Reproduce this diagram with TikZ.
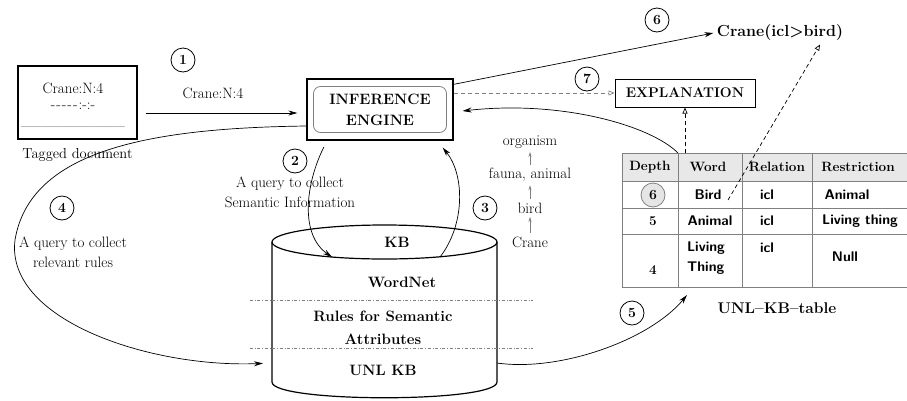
\documentclass[tikz,border=0pt]{standalone}
\usetikzlibrary{positioning,arrows.meta}

\begin{document}
\begin{tikzpicture}[x=1pt,y=-1pt,
	every node/.style={font=\fontsize{15}{20}\selectfont},
	arr/.style={line width=0.7pt,-{Stealth[length=9pt,width=5pt]}},
	oarr/.style={line width=0.7pt,dash pattern=on 4pt off 3pt,-{Triangle[open,length=6pt,width=5pt]}},
	sarr/.style={gray,line width=0.6pt,-{Stealth[length=5pt,width=3pt]}},
	num/.style={circle,draw,line width=0.8pt,minimum size=24pt,inner sep=0pt,font=\fontsize{14}{14}\selectfont\bfseries},
	kbtext/.style={font=\fontsize{15}{23}\selectfont\bfseries,align=center},
	hd/.style={font=\fontsize{13.5}{15}\selectfont\bfseries},
	cell/.style={font=\fontsize{14}{20}\selectfont\sffamily\bfseries,align=left}]
		\useasboundingbox (0,0) rectangle (907,400);

		\node[draw,line width=1.1pt,minimum width=119pt,minimum height=73pt] (doc) at (77.5,102.5) {};
		\node (d1) at (73,88) {Crane:N:4};
		\node[inner sep=0pt] (d2) at (73,106) {-\kern1pt-\kern1pt-\kern1pt-\kern1pt-\kern1pt:-:-};
		\node[inner sep=0pt] (d3) at (73,126) {\_\_\_\_\_\_\_\_\_\_};
		\node[below=5pt of doc,font=\fontsize{14.5}{17}\selectfont] (tag) {Tagged document};

		\node[draw,line width=1.3pt,minimum width=146pt,minimum height=61pt] (engine) at (380,109.5) {};
		\node[draw=gray,line width=0.8pt,rounded corners=7pt,minimum width=133pt,minimum height=46pt,align=center,
			font=\fontsize{15}{21}\selectfont\bfseries] (eng) at (engine) {INFERENCE\\ENGINE};

		\node[draw,line width=1pt,minimum width=140pt,minimum height=28pt,font=\fontsize{14}{16}\selectfont\bfseries] (expl) at (685,93) {EXPLANATION};
		\node[font=\fontsize{16}{18}\selectfont\bfseries] (res) at (780,33) {Crane(icl>bird)};

		\node[num] (n1) at (183,60) {1};
		\node[num] (n2) at (295,161) {2};
		\node[num] (n3) at (485,208) {3};
		\node[num] (n4) at (62,208) {4};
		\node[num] (n5) at (632,313) {5};
		\node[num] (n6) at (657,20) {6};
		\node[num] (n7) at (587,79) {7};

		\node (lab1) at (213,93) {Crane:N:4};
		\node[align=center] (q2) at (290,192) {A query to collect\\Semantic Information};
		\node[align=center] (q4) at (73,252) {A query to collect\\relevant rules};

		\node (org) at (530,142) {organism};
		\node (fa) at (530,175) {fauna, animal};
		\node (bi) at (530,208) {bird};
		\node (cr) at (530,242) {Crane};
		\draw[sarr] (cr) -- (bi);
		\draw[sarr] (bi) -- (fa);
		\draw[sarr] (fa) -- (org);

		\draw[line width=1.2pt] (272,242) -- (272,382) .. controls (272,403) and (497,403) .. (497,382) -- (497,242);
		\draw[line width=1.2pt] (384.5,242) ellipse [x radius=112.5pt,y radius=17pt];
		\draw[gray,dash dot,line width=0.7pt] (250,300) -- (533,300);
		\draw[gray,dash dot,line width=0.7pt] (250,348) -- (533,348);
		\node[kbtext] (kb) at (397,242) {KB};
		\node[kbtext] (wn) at (402,282) {WordNet};
		\node[kbtext] (rules) at (383,328) {Rules for Semantic\\Attributes};
		\node[kbtext] (unl) at (383,370) {UNL KB};
		\coordinate (kbin) at (332,257);
		\coordinate (kbout) at (440,257);
		\coordinate (kbw) at (272,363);
		\coordinate (kbe) at (497,363);

		\fill[gray!18] (622,153) rectangle (910,181);
		\draw[gray,line width=0.9pt] (622,153) rectangle (910,287);
		\draw[gray,line width=0.9pt] (622,181) -- (910,181) (622,208) -- (910,208) (622,234) -- (910,234)
			(678,153) -- (678,287) (742,153) -- (742,287) (812,153) -- (812,287);
		\node[hd] (hdep) at (650,167) {Depth};
		\node[hd] (hword) at (708,167) {Word};
		\node[hd] (hrel) at (777,167) {Relation};
		\node[hd] (hres) at (858,167) {Restriction};
		\node[num,draw=gray,fill=gray!20] (d6) at (653,195) {6};
		\node[cell] (w1) at (708,195) {Bird};
		\node[cell] (r1) at (767,195) {icl};
		\node[cell] (s1) at (847,195) {Animal};
		\node[hd] (d5) at (653,221) {5};
		\node[cell] (w2) at (710,221) {Animal};
		\node[cell] (r2) at (767,221) {icl};
		\node[cell] (s2) at (860,221) {Living thing};
		\node[hd] (d4) at (653,270) {4};
		\node[cell] (w3) at (706,258) {Living\\Thing};
		\node[cell] (r3) at (767,248) {icl};
		\node[cell] (s3) at (845,257) {Null};
		\node[font=\fontsize{15.5}{17}\selectfont\bfseries] (tlab) at (777,308) {UNL--KB--table};
		\coordinate (wtop) at (678,153);
		\coordinate (wbot) at (687,295);
		\coordinate (bt) at (728,200);

		\draw[arr,shorten <=8pt,shorten >=9pt] (doc.east |- 0,113) -- (engine.west |- 0,113);
		\draw[arr,shorten <=7pt] (engine.south -| 327,0) .. controls (305,185) and (300,235) .. (kbin);
		\draw[arr,shorten >=9pt] (kbout) .. controls (465,225) and (465,175) .. (engine.south -| 437,0);
		\draw[arr,shorten >=9pt] (engine.west |- 0,126) .. controls (150,128) and (30,150) .. (15,240)
			.. controls (5,320) and (150,368) .. (kbw);
		\draw[arr] (kbe) .. controls (560,372) and (650,340) .. (wbot);
		\draw[arr,shorten >=9pt] (wtop) .. controls (650,125) and (560,100) .. (engine.east |- 0,112);
		\draw[arr] ([yshift=-6pt]engine.north east) -- (res.west);
		\draw[oarr,gray] (engine.east |- expl.west) -- (expl.west);
		\draw[oarr] (wtop -| expl.south) -- (expl.south);
		\draw[oarr] (bt) -- (res.south -| 820,0);
	\end{tikzpicture}
\end{document}
